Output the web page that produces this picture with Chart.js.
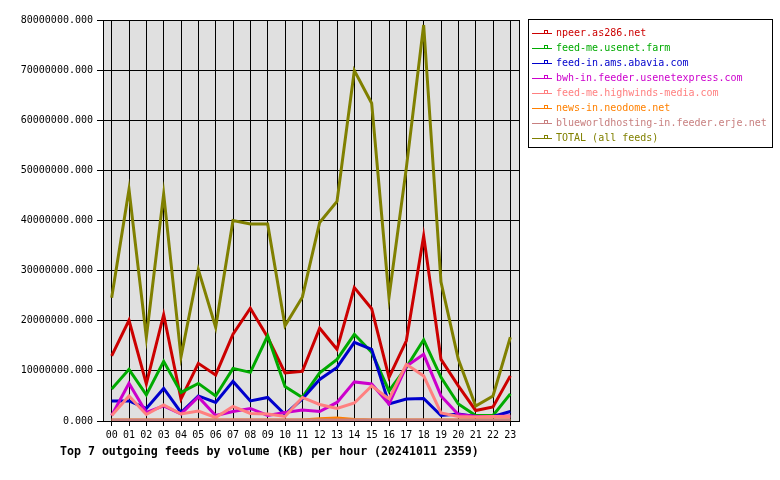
<!DOCTYPE html>
<html>
<head>
<meta charset="utf-8">
<script src="https://cdn.jsdelivr.net/npm/chart.js@4/dist/chart.umd.min.js"></script>
<style>
  body { margin: 0; background: #fff; }
  #wrap { width: 780px; height: 480px; }
</style>
</head>
<body>
<div id="wrap"><canvas id="chart" width="780" height="480"></canvas></div>
<script>
const hours = ['00','01','02','03','04','05','06','07','08','09','10','11','12','13','14','15','16','17','18','19','20','21','22','23'];

const npeer = [13000000, 20100000, 7400000, 21200000, 4400000, 11500000, 9200000, 17300000, 22500000, 16700000, 9600000, 9900000, 18500000, 14300000, 26600000, 22400000, 8700000, 16000000, 36900000, 12300000, 7000000, 2100000, 2800000, 9000000];
const usenetFarm = [6400000, 10300000, 5200000, 11900000, 5700000, 7500000, 5000000, 10500000, 9700000, 17000000, 6900000, 4700000, 9600000, 12300000, 17300000, 13700000, 6000000, 10700000, 16200000, 8700000, 3400000, 1100000, 1100000, 5400000];
const abavia = [4000000, 4000000, 2500000, 6500000, 1700000, 5000000, 3700000, 7900000, 4000000, 4700000, 1300000, 4400000, 8300000, 10700000, 15700000, 14300000, 3400000, 4400000, 4500000, 1100000, 1400000, 900000, 900000, 1900000];
const usenetExpress = [1100000, 7500000, 1700000, 3000000, 1400000, 4800000, 1100000, 1900000, 2500000, 1100000, 1700000, 2200000, 1900000, 3700000, 7800000, 7400000, 3400000, 10900000, 13300000, 5000000, 1300000, 900000, 900000, 1000000];
const highwinds = [1100000, 5000000, 1300000, 3200000, 1400000, 2000000, 700000, 2900000, 1500000, 1400000, 900000, 4700000, 3300000, 2500000, 3600000, 7000000, 4400000, 11300000, 9000000, 1600000, 900000, 800000, 900000, 900000];
const neodome = [200000, 200000, 200000, 200000, 200000, 200000, 200000, 200000, 200000, 200000, 200000, 200000, 450000, 600000, 300000, 200000, 200000, 200000, 200000, 200000, 200000, 200000, 200000, 200000];
const blueworld = [200000, 200000, 200000, 200000, 200000, 200000, 200000, 200000, 200000, 200000, 200000, 200000, 200000, 200000, 200000, 200000, 200000, 200000, 200000, 200000, 200000, 200000, 200000, 200000];
const total = [24600000, 46200000, 16700000, 45300000, 12800000, 30200000, 18700000, 40000000, 39300000, 39300000, 19000000, 24700000, 39600000, 43800000, 69900000, 63400000, 24700000, 50500000, 79000000, 27700000, 12300000, 3000000, 5000000, 16700000];

const feedNames = ['npeer.as286.net', 'feed-me.usenet.farm', 'feed-in.ams.abavia.com', 'bwh-in.feeder.usenetexpress.com', 'feed-me.highwinds-media.com', 'news-in.neodome.net', 'blueworldhosting-in.feeder.erje.net', 'TOTAL (all feeds)'];
const feedColors = ['#cc0000', '#00aa00', '#0000cc', '#cc00cc', '#ff8080', '#ff8000', '#c88080', '#808000'];
const chartTitle = 'Top 7 outgoing feeds by volume (KB) per hour (20241011 2359)';

const series = [npeer, usenetFarm, abavia, usenetExpress, highwinds, neodome, blueworld, total];
const mono = "'DejaVu Sans Mono', monospace";

// grey plot background + black frame
const plotFrame = {
    id: 'plotFrame',
    beforeDraw(c) {
        const a = c.chartArea;
        c.ctx.save();
        c.ctx.fillStyle = '#e0e0e0';
        c.ctx.fillRect(a.left, a.top, a.right - a.left, a.bottom - a.top);
        c.ctx.restore();
    },
    afterDraw(c) {
        const a = c.chartArea;
        const ctx = c.ctx;
        ctx.save();
        ctx.strokeStyle = '#000';
        ctx.lineWidth = 1;
        ctx.strokeRect(a.left + 0.5, a.top + 0.5, a.right - a.left, a.bottom - a.top);
        ctx.restore();
    }
};

// boxed legend on the right and the caption under the axis
const legendBox = {
    id: 'legendBox',
    afterDraw(c) {
        const ctx = c.ctx;
        ctx.save();
        ctx.strokeStyle = '#000';
        ctx.lineWidth = 1;
        ctx.strokeRect(528.5, 19.5, 244, 128);
        ctx.font = '10px ' + mono;
        ctx.textBaseline = 'middle';
        c.data.datasets.forEach((ds, i) => {
            const y = 33.5 + i * 15;
            ctx.strokeStyle = ds.borderColor;
            ctx.beginPath();
            ctx.moveTo(532, y);
            ctx.lineTo(552, y);
            ctx.stroke();
            ctx.strokeRect(544.5, y - 3, 3, 3);
            ctx.fillStyle = ds.borderColor;
            ctx.fillText(ds.label, 556, y);
        });
        ctx.fillStyle = '#000';
        ctx.font = 'bold 11.6px ' + mono;
        ctx.fillText(chartTitle, 60, 452);
        ctx.restore();
    }
};

new Chart(document.querySelector('#chart'), {
    type: 'line',
    data: {
        labels: hours,
        datasets: series.map((vals, i) => ({
            label: feedNames[i],
            data: vals,
            borderColor: feedColors[i],
            backgroundColor: feedColors[i],
            borderWidth: 3,
            pointRadius: 0,
            tension: 0,
            order: series.length - i
        }))
    },
    options: {
        responsive: false,
        animation: false,
        layout: { padding: { left: 0, right: 261, top: 20, bottom: 36 } },
        plugins: {
            legend: { display: false },
            tooltip: { enabled: false }
        },
        scales: {
            x: {
                offset: true,
                grid: { color: '#000', offset: false, tickLength: 5, drawOnChartArea: true },
                border: { color: '#000' },
                ticks: { color: '#000', font: { family: mono, size: 10 }, padding: 3, maxRotation: 0, autoSkip: false }
            },
            y: {
                min: 0,
                max: 80000000,
                afterFit(s) { s.width = 103; },
                grid: { color: '#000', tickLength: 6 },
                border: { color: '#000' },
                ticks: {
                    stepSize: 10000000,
                    color: '#000',
                    font: { family: mono, size: 10 },
                    padding: 4,
                    callback: v => v.toFixed(3)
                }
            }
        }
    },
    plugins: [plotFrame, legendBox]
});
</script>
</body>
</html>
